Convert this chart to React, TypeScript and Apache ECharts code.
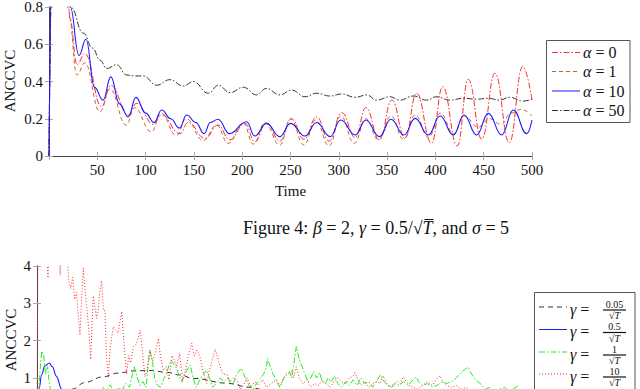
import React, { useEffect, useRef } from 'react';
import * as echarts from 'echarts';

const FONT = 'Liberation Serif';

// ---- Top chart (Figure 4): ANCCVC over Time for several alpha ----
const alpha0: number[][] = [[0,0],[3,1.0],[12,1.4],[20,0.85],[21.7,0.73],[29,0.49],[37,0.55],[54.5,0.265],[64,0.38],[82,0.22],[90.7,0.283],[108,0.17],[116.6,0.22],[135.6,0.12],[144,0.18],[161.5,0.095],[175,0.166],[187,0.087],[203,0.175],[213,0.077],[225,0.178],[239,0.08],[251,0.2],[264,0.09],[277,0.21],[290,0.08],[303,0.233],[317,0.1],[328,0.26],[342,0.087],[355,0.3],[368.5,0.095],[380.5,0.337],[396,0.068],[407.5,0.372],[422.7,0.054],[434,0.412],[448,0.09],[461.7,0.444],[476.5,0.072],[490.4,0.48],[500,0.3]];
const alpha1: number[][] = [[0,0],[3,1.0],[12,1.4],[18,0.9],[20,0.78],[29,0.435],[37,0.5],[52.8,0.238],[63,0.36],[80,0.166],[88.4,0.26],[106,0.13],[116,0.23],[132,0.11],[142,0.2],[159.7,0.083],[173.5,0.166],[185.5,0.068],[201,0.178],[211.5,0.064],[223.5,0.178],[239,0.059],[250,0.2],[264,0.059],[276,0.193],[290,0.055],[302,0.215],[316,0.068],[328,0.2],[341,0.087],[354,0.215],[367,0.09],[379,0.22],[393,0.1],[405,0.23],[419,0.12],[430,0.215],[444,0.155],[456,0.2],[468,0.17],[478,0.23],[489,0.25],[500,0.215]];
const alpha10: number[][] = [[0,0],[3,1.0],[12,1.4],[22,0.8],[31,0.54],[38.3,0.627],[47,0.37],[56,0.3],[64,0.425],[73,0.28],[82,0.21],[90,0.315],[100,0.23],[108.7,0.18],[116.6,0.247],[126,0.2],[135,0.15],[142.5,0.22],[152,0.18],[160.5,0.12],[167,0.18],[175,0.197],[186.7,0.12],[204.6,0.184],[213,0.107],[225,0.175],[239,0.104],[250,0.175],[265,0.107],[277,0.18],[291,0.104],[302,0.193],[317,0.113],[328,0.193],[342,0.104],[354,0.197],[367.5,0.113],[379,0.202],[392.7,0.113],[404.8,0.215],[418.6,0.113],[429.6,0.22],[442.7,0.113],[454.8,0.229],[468.6,0.113],[480.7,0.247],[494.5,0.12],[500,0.193]];
const alpha50: number[][] = [[0,0],[3,1.0],[12,1.4],[22.4,0.8],[35.5,0.66],[45,0.58],[52.8,0.515],[59.7,0.47],[70,0.49],[80.4,0.435],[88,0.43],[97.6,0.43],[111.5,0.38],[125,0.41],[139,0.376],[149.4,0.4],[165,0.337],[175.3,0.38],[187.4,0.34],[201,0.369],[215,0.328],[225,0.363],[239,0.328],[251,0.354],[265,0.318],[277,0.337],[291,0.322],[303,0.333],[317,0.315],[329,0.328],[339,0.3],[353,0.318],[363,0.3],[377,0.322],[391,0.3],[401,0.318],[415,0.3],[429,0.31],[443,0.305],[455,0.31],[466,0.3],[477,0.315],[491,0.295],[500,0.305]];

// ---- Bottom chart: ANCCVC for several gamma ----
const gamma005: number[][] = [[0,0],[10,0.3],[20,0.5],[36,0.7],[50,0.88],[68,1.03],[84,1.13],[100,1.19],[117,1.2],[135,1.15],[148,1.08],[162,0.99],[197,0.86],[221,0.75],[236,0.68],[260,0.6],[300,0.5],[350,0.4],[400,0.35],[450,0.3],[500,0.28]];
const gamma05: number[][] = [[0,0],[2,0.7],[5,1.1],[8,1.32],[12.8,1.4],[16,1.3],[20,1.05],[25.6,0.7],[30,0.45],[40,0.3],[80,0.25],[150,0.2],[250,0.18],[350,0.17],[500,0.15]];
const gamma1: number[][] = [[0,0],[2,0.7],[4,1.5],[5,1.72],[7,1.6],[9,1.1],[11,1.3],[13,0.8],[16,0.5],[20,0.4],[30,0.6],[40,0.5],[50,0.6],[60,0.55],[68,0.75],[72,0.65],[76,0.82],[80,0.6],[85,0.75],[88,0.65],[92,0.85],[96,0.75],[99,1.1],[101,1.3],[104,1.0],[107,0.8],[110,0.9],[113,0.75],[117,1.75],[120,1.4],[122,1.0],[125,0.8],[128,0.75],[131,0.95],[134,1.1],[139,1.48],[144,1.3],[147,1.1],[150,0.9],[153,1.1],[159,1.35],[162,1.0],[165,0.75],[168,0.9],[171,1.05],[176,1.21],[179,1.0],[182,0.75],[186,0.85],[190,1.0],[194,0.9],[198,1.0],[203,0.8],[207,1.1],[212,1.26],[216,1.0],[220,0.8],[224,0.7],[229,0.9],[235,1.1],[238,1.3],[239,1.53],[242,1.3],[245,1.1],[248,0.95],[252,0.75],[256,1.0],[258,1.1],[262,1.17],[264,1.0],[266,1.3],[269,1.84],[272,1.5],[275,1.3],[278,1.1],[281,0.9],[284,1.0],[287,1.17],[290,1.0],[293,1.15],[296,0.9],[299,0.85],[302,1.0],[305,0.9],[309,1.05],[312,0.85],[316,0.75],[320,0.9],[324,0.8],[328,0.95],[332,0.8],[336,1.0],[340,0.85],[344,0.9],[348,0.75],[352,0.9],[356,1.08],[360,0.9],[364,0.8],[368,0.75],[372,0.85],[376,0.8],[380,0.9],[385,0.8],[390,0.95],[393,1.03],[396,0.9],[400,0.8],[405,0.85],[410,0.75],[415,0.8],[420,0.9],[425,0.85],[430,0.9],[435,1.0],[440,1.15],[447,1.29],[451,1.1],[455,0.95],[460,0.85],[465,0.7],[470,0.75],[475,0.6],[480,0.7],[485,0.75],[490,0.65],[495,0.72],[500,0.8]];
const gamma10: number[][] = [[0,0.2],[1,4.5],[10,4.4],[11.4,3.68],[12.5,4.5],[23,4.5],[24,3.76],[25,4.5],[31,4.5],[33,3.6],[35,3.4],[37,3.7],[39,3.1],[41,3.3],[43,2.6],[44.6,2.15],[46,3.0],[48,3.95],[50,3.3],[52,2.8],[54,2.2],[55.7,1.5],[57,2.4],[58.4,3.2],[60,2.9],[62,2.6],[63.6,2.85],[65,3.3],[67,3.6],[69,2.8],[70.5,2.8],[72,1.6],[74,1.0],[76,1.8],[79,2.37],[81,2.3],[84,2.2],[86,2.5],[88,2.78],[90,2.0],[93,1.1],[95,1.6],[97,1.4],[100,1.84],[103,1.9],[107,2.28],[109,1.8],[112,1.03],[114,1.2],[117,1.75],[120,1.45],[123,1.7],[126,2.06],[128,1.6],[131,1.2],[134,1.3],[137,0.95],[140,1.6],[143,1.45],[145,1.3],[148,1.66],[151,0.9],[154,1.2],[157,1.6],[160.5,1.93],[163,1.6],[166,1.75],[169,1.57],[172,1.2],[176,0.85],[179,1.2],[182,1.5],[185,1.77],[188,1.5],[190,1.3],[193,1.1],[197,1.1],[200,0.9],[204,1.0],[207,0.95],[211,0.7],[214,0.8],[218,1.0],[222,0.75],[226,0.9],[230,0.8],[234,0.95],[238,0.75],[243,0.85],[248,0.95],[252,0.8],[256,1.0],[260,1.1],[264,1.17],[266,1.0],[269,1.3],[272,1.0],[276,0.85],[280,0.95],[284,0.75],[288,0.85],[292,0.8],[296,0.95],[300,0.85],[304,0.75],[308,0.9],[312,1.0],[316,0.9],[320,0.85],[324,1.0],[328,1.05],[330,1.14],[333,0.95],[336,0.8],[340,0.9],[344,0.75],[348,0.85],[352,0.9],[356,0.85],[359,1.06],[362,0.9],[366,0.75],[370,0.85],[374,0.9],[377,0.85],[380,1.03],[383,0.9],[386,0.8],[390,0.75],[395,0.7],[400,0.8],[405,0.9],[410,0.8],[414,0.95],[418,1.06],[421,0.9],[425,0.8],[430,0.75],[435,0.8],[440,0.7],[445,0.75],[450,0.65],[470,0.6],[500,0.6]];

const topLegend = ['α = 0', 'α = 1', 'α = 10', 'α = 50'];
const bottomLegendNum = ['0.05', '0.5', '1', '10'];

const RED = '#ff2a2a';
const BROWN = '#c0663a';
const BLUE = '#1a1aff';
const BLACK = '#333333';
const GREEN = '#22ee22';

const DASHDOT = [6, 2, 1.5, 2];
const DASH = [4, 3];

export default function App() {
  const ref = useRef<HTMLDivElement>(null);
  useEffect(() => {
    if (!ref.current) return;
    const chart = echarts.init(ref.current, undefined, { renderer: 'svg' });
    const tick = { show: true, inside: true, length: 4, lineStyle: { color: '#aaa', width: 1 } };
    const line = { show: true, lineStyle: { color: '#444', width: 1 } };
    const label = { fontFamily: FONT, fontSize: 15, color: '#111' };

    const xBottom = (gi: number, show: boolean) => ({
      type: 'value', gridIndex: gi, min: 0, max: 500, interval: 50, position: 'bottom',
      axisLine: line, axisTick: tick, splitLine: { show: false },
      axisLabel: { ...label, show, margin: 6, formatter: (v: number) => (v === 0 ? '' : String(v)) },
    });
    const xTop = (gi: number) => ({
      type: 'value', gridIndex: gi, min: 0, max: 500, interval: 50, position: 'top',
      axisLine: line, axisTick: tick, splitLine: { show: false }, axisLabel: { show: false },
    });
    const yRight = (gi: number, max: number, interval: number) => ({
      type: 'value', gridIndex: gi, min: 0, max, interval, position: 'right',
      axisLine: line, axisTick: tick, splitLine: { show: false }, axisLabel: { show: false },
    });

    const lineSeries = (name: string, data: number[][], xi: number, yi: number, color: string, type: any, width = 1, smooth: any = 0.45) => ({
      name, type: 'line', data, xAxisIndex: xi, yAxisIndex: yi, showSymbol: false, symbol: 'none',
      smooth, smoothMonotone: 'x',
      lineStyle: { color, width, type }, clip: true,
    });

    const topLegendItems: any[] = [];
    const topStyles = [
      { c: RED, d: DASHDOT }, { c: BROWN, d: DASH }, { c: BLUE, d: null }, { c: BLACK, d: DASHDOT },
    ];
    const topYs = [52.5, 71.5, 91, 110.5];
    topLegendItems.push({ type: 'rect', shape: { x: 546.5, y: 40.5, width: 83.5, height: 82 }, style: { fill: '#fff', stroke: '#555', lineWidth: 1 } });
    topStyles.forEach((s, i) => {
      topLegendItems.push({ type: 'line', shape: { x1: 552, y1: topYs[i], x2: 580, y2: topYs[i] }, style: { stroke: s.c, lineWidth: 1, lineDash: s.d || undefined } });
      const parts = topLegend[i].split(' = ');
      topLegendItems.push({
        type: 'text', x: 583, y: topYs[i],
        style: { text: `{i|${parts[0]}} = ${parts[1]}`, fontFamily: FONT, fontSize: 16, fill: '#111', verticalAlign: 'middle', align: 'left',
          rich: { i: { fontStyle: 'italic', fontFamily: FONT, fontSize: 16, fill: '#111' } } },
      });
    });

    const botStyles = [
      { c: BLACK, d: [5, 4] }, { c: BLUE, d: null }, { c: GREEN, d: DASHDOT }, { c: RED, d: [1, 2] },
    ];
    const botYs = [307, 329.5, 352, 374];
    const botItems: any[] = [];
    botItems.push({ type: 'rect', shape: { x: 534.5, y: 292.5, width: 100.5, height: 120 }, style: { fill: '#fff', stroke: '#555', lineWidth: 1 } });
    botStyles.forEach((s, i) => {
      const y = botYs[i];
      botItems.push({ type: 'line', shape: { x1: 539, y1: y, x2: 567, y2: y }, style: { stroke: s.c, lineWidth: 1, lineDash: s.d || undefined } });
      botItems.push({ type: 'text', x: 570, y: y + 2, style: { text: '{i|γ} =', fontFamily: FONT, fontSize: 16, fill: '#111', verticalAlign: 'middle', align: 'left', rich: { i: { fontStyle: 'italic', fontFamily: FONT, fontSize: 16, fill: '#111' } } } });
      botItems.push({ type: 'text', x: 614.5, y: y - 3, style: { text: bottomLegendNum[i], fontFamily: FONT, fontSize: 10, fill: '#111', verticalAlign: 'middle', align: 'center' } });
      botItems.push({ type: 'line', shape: { x1: 603, y1: y + 3, x2: 626, y2: y + 3 }, style: { stroke: '#111', lineWidth: 1.2 } });
      botItems.push({ type: 'text', x: 614.5, y: y + 8.5, style: { text: '√{i|T}', fontFamily: FONT, fontSize: 10, fill: '#111', verticalAlign: 'middle', align: 'center', rich: { i: { fontStyle: 'italic', fontFamily: FONT, fontSize: 10, fill: '#111' } } } });
    });

    const caption = {
      type: 'text', x: 376, y: 228,
      style: {
        text: 'Figure 4: {i|β} = 2, {i|γ} = 0.5/√{i|T\u0305}, and {i|σ} = 5',
        fontFamily: FONT, fontSize: 18, fill: '#111', align: 'center', verticalAlign: 'middle',
        rich: { i: { fontStyle: 'italic', fontFamily: FONT, fontSize: 18, fill: '#111' } },
      },
    };

    const yName = (x: number, y: number) => ({
      type: 'text', x, y, rotation: Math.PI / 2,
      style: { text: 'ANCCVC', fontFamily: FONT, fontSize: 15, fill: '#111', align: 'center', verticalAlign: 'middle' },
    });

    chart.setOption({
      animation: false,
      backgroundColor: '#fff',
      grid: [
        { left: 49, top: 7, width: 483, height: 149, outerBoundsMode: 'none', containLabel: false },
        { left: 37, top: 266, width: 482, height: 149.3, outerBoundsMode: 'none', containLabel: false },
      ],
      xAxis: [
        { ...xBottom(0, true), name: 'Time', nameLocation: 'middle', nameGap: 27, nameTextStyle: { fontFamily: FONT, fontSize: 15, color: '#111' } },
        xTop(0),
        xBottom(1, false),
        xTop(1),
      ],
      yAxis: [
        {
          type: 'value', gridIndex: 0, min: 0, max: 0.8, interval: 0.2, position: 'left',
          axisLine: line, axisTick: tick, splitLine: { show: false },
          axisLabel: { ...label, margin: 6, formatter: (v: number) => (v === 0 ? '0' : v.toFixed(1)) },
        },
        yRight(0, 0.8, 0.2),
        {
          type: 'value', gridIndex: 1, min: 0, max: 4, interval: 1, position: 'left',
          axisLine: line, axisTick: tick, splitLine: { show: false },
          axisLabel: { ...label, margin: 6, formatter: (v: number) => (v === 0 ? '' : String(v)) },
        },
        yRight(1, 4, 1),
      ],
      series: [
        lineSeries('α = 0', alpha0, 0, 0, RED, DASHDOT),
        lineSeries('α = 1', alpha1, 0, 0, BROWN, DASH),
        lineSeries('α = 50', alpha50, 0, 0, BLACK, DASHDOT),
        lineSeries('α = 10', alpha10, 0, 0, BLUE, 'solid', 1.1),
        lineSeries('γ = 0.05/√T', gamma005, 2, 2, BLACK, [5, 4], 1, 0.4),
        lineSeries('γ = 0.5/√T', gamma05, 2, 2, BLUE, 'solid', 1.1, 0.4),
        lineSeries('γ = 1/√T', gamma1, 2, 2, GREEN, DASHDOT, 1, false),
        lineSeries('γ = 10/√T', gamma10, 2, 2, RED, [1, 2], 1, false),
      ],
      graphic: [...topLegendItems, ...botItems, caption, yName(10, 81), yName(11, 340)],
    });
    return () => chart.dispose();
  }, []);
  return <div ref={ref} style={{ position: 'fixed', left: 0, top: 0, width: 640, height: 389, background: '#fff' }} />;
}
